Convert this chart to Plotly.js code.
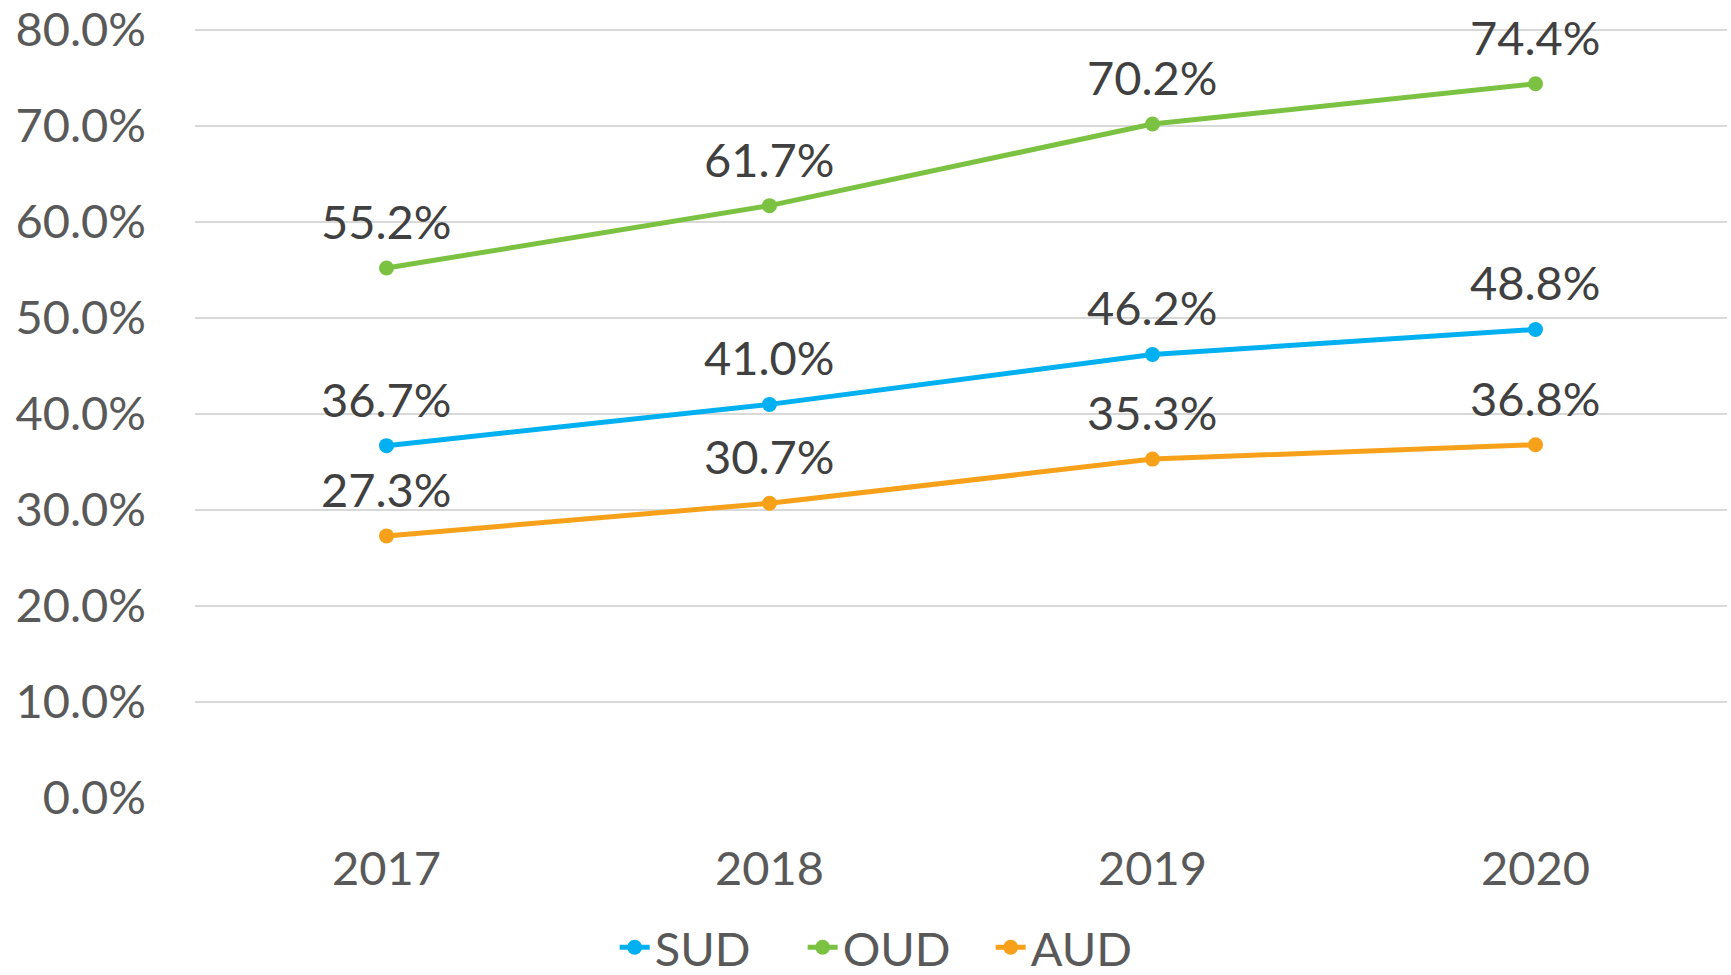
<!DOCTYPE html>
<html>
<head>
<meta charset="utf-8">
<script src="https://cdn.plot.ly/plotly-3.0.1.min.js"></script>
<style>html,body{margin:0;padding:0;background:#fff;}#chart{width:1731px;height:975px;}</style>
</head>
<body>
<div id="chart"></div>
<script>
const years = ["2017", "2018", "2019", "2020"];
const sud = [0.367, 0.410, 0.462, 0.488];
const oud = [0.552, 0.617, 0.702, 0.744];
const aud = [0.273, 0.307, 0.353, 0.368];
const seriesNames = ["SUD", "OUD", "AUD"];
const yTicks = [0, 0.1, 0.2, 0.3, 0.4, 0.5, 0.6, 0.7, 0.8];

const colors = ["#00B0F0", "#7CC242", "#F7A11A"];
const FONT = "Lato, 'Open Sans', sans-serif";
const seriesVals = [sud, oud, aud];

function mk(name, vals, color) {
  return {
    type: "scatter",
    mode: "lines+markers",
    name: name,
    x: years,
    y: vals,
    line: {color: color, width: 5},
    marker: {color: color, size: 15},
    cliponaxis: false,
    hoverinfo: "skip"
  };
}

const data = seriesNames.map((n, i) => mk(n, seriesVals[i], colors[i]));

const annotations = [];
seriesVals.forEach(vals => {
  vals.forEach((v, j) => {
    annotations.push({
      x: j, y: v, xref: "x", yref: "y",
      text: (v * 100).toFixed(1) + "%",
      showarrow: false,
      yshift: 47,
      font: {family: FONT, size: 47, color: "#404040"}
    });
  });
});

const layout = {
  width: 1731,
  height: 975,
  margin: {l: 195, r: 4, t: 28, b: 176, autoexpand: false},
  paper_bgcolor: "#ffffff",
  plot_bgcolor: "#ffffff",
  font: {family: FONT, size: 47, color: "#595959"},
  showlegend: true,
  annotations: annotations,
  legend: {
    orientation: "h",
    x: 0.518, xanchor: "center", xref: "container",
    y: 0.028, yanchor: "middle", yref: "container",
    font: {family: FONT, size: 47, color: "#595959"},
    entrywidth: 143,
    entrywidthmode: "pixels",
    tracegroupgap: 0
  },
  xaxis: {
    type: "category",
    range: [-0.5, 3.5],
    showgrid: false,
    zeroline: false,
    showline: false,
    ticks: "",
    ticklabelstandoff: 38,
    tickfont: {family: FONT, size: 47, color: "#595959"}
  },
  yaxis: {
    range: [-0.001, 0.802],
    tickvals: yTicks,
    tickformat: ".1%",
    showgrid: true,
    gridcolor: "#d9d9d9",
    gridwidth: 1.5,
    zeroline: false,
    showline: false,
    ticks: "",
    ticklabelstandoff: 48,
    tickfont: {family: FONT, size: 47, color: "#595959"}
  }
};

Plotly.newPlot("chart", data, layout, {displayModeBar: false, staticPlot: true});
</script>
</body>
</html>
